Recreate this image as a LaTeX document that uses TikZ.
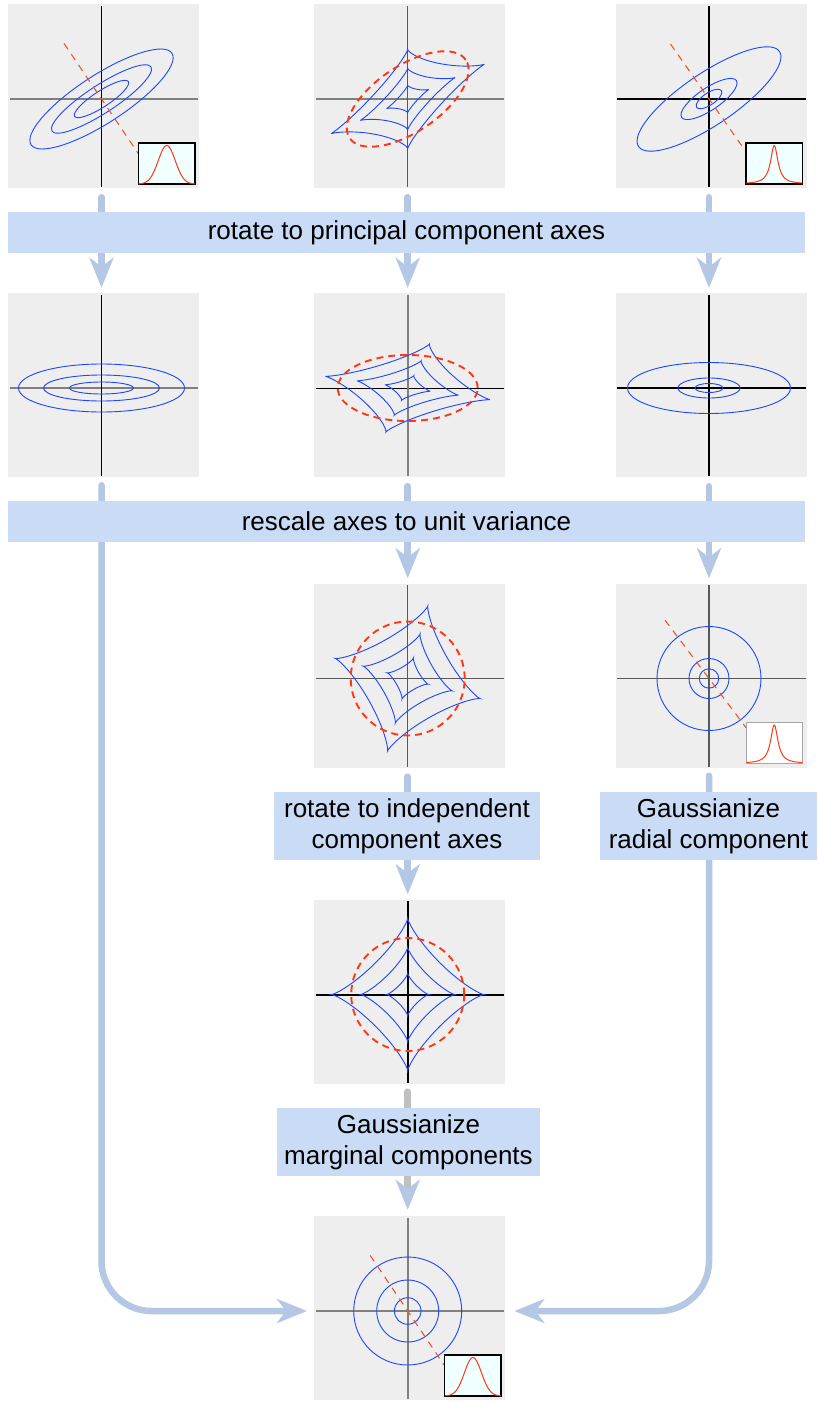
\documentclass[tikz,border=0pt]{standalone}
\usepackage{fontspec}
\setmainfont{Liberation Sans}
\usepackage{tikz}
\usetikzlibrary{arrows.meta}

\definecolor{panelgray}{RGB}{238,238,238}
\definecolor{bandblue}{RGB}{201,219,245}
\definecolor{flowblue}{RGB}{180,199,228}
\definecolor{stemgray}{RGB}{192,192,192}
\definecolor{contourblue}{RGB}{30,70,250}
\definecolor{dashred}{RGB}{255,55,20}
\definecolor{minorred}{RGB}{232,85,50}
\definecolor{insetcyan}{RGB}{240,255,255}

\begin{document}
\begin{tikzpicture}[x=1pt,y=1pt,
        declare function={cx(\t)=cos(\t)*abs(cos(\t))*sqrt(abs(cos(\t)));
                          cy(\t)=sin(\t)*abs(sin(\t))*sqrt(abs(sin(\t)));},
        panel/.style={fill=panelgray,minimum width=191pt,minimum height=184pt,inner sep=0pt,xshift=2pt,yshift=3pt},
        band/.style={fill=bandblue,minimum width=797pt,minimum height=41pt,inner sep=0pt,font=\fontsize{26}{31}\selectfont},
        stepbox/.style={fill=bandblue,minimum height=68pt,inner sep=0pt,align=center,font=\fontsize{26}{31}\selectfont},
        flow/.style={draw=flowblue,line width=6.5pt,line cap=round,-{Stealth[length=30pt,width=24pt,inset=9pt]}},
        contour/.style={draw=contourblue,line width=0.9pt},
        ring/.style={draw=dashred,line width=1.9pt,dash pattern=on 7pt off 5pt},
        minor/.style={draw=minorred,line width=1.1pt,dash pattern=on 7pt off 6pt},
        axthin/.style={draw=black,line width=0.9pt,shorten <=2pt,shorten >=1pt},
        axdim/.style={draw=black!65,line width=1.1pt,shorten <=2pt,shorten >=1pt},
        axgray/.style={draw=black!50,line width=1.8pt,shorten <=2pt,shorten >=1pt},
        axbold/.style={draw=black,line width=2pt,shorten <=2pt,shorten >=1pt},
        curvered/.style={draw=dashred,line width=1pt},
        insetbox/.style={draw=black,line width=1.5pt,fill=insetcyan},
        insetpale/.style={draw=black!35,line width=1pt,fill=white},
        pics/gauss/.style={code={
            \draw[insetbox] (37,-85) rectangle (93.5,-44);
            \draw[curvered] plot[domain=-3.3:3.3,samples=67] ({65.25+8.5*\x},{-85+38.5*exp(-\x*\x/2)});}},
        pics/peak/.style={code={
            \draw[#1] (37,-85) rectangle (93.5,-44);
            \draw[curvered] plot[domain=-28:28,samples=113] ({65.25+\x},{-85+38.5/(1+\x*\x/20)});}}]

    \useasboundingbox (0,0) rectangle (817,-1402);

    % axis crossings
    \coordinate (o11) at (101.5,-99);
    \coordinate (o12) at (407.7,-99);
    \coordinate (o13) at (709,-99);
    \coordinate (o21) at (101.5,-388);
    \coordinate (o22) at (407.7,-388);
    \coordinate (o23) at (709,-388);
    \coordinate (o32) at (407.7,-678.5);
    \coordinate (o33) at (709,-678.5);
    \coordinate (o42) at (407.7,-994.5);
    \coordinate (o52) at (407.7,-1311);

    \foreach \p in {11,12,13,21,22,23,32,33,42,52}
        \node[panel] (p\p) at (o\p) {};

    % row 1
    \draw[axgray] (p11.west |- o11) -- (p11.east |- o11);
    \draw[axthin] (o11 |- p11.north) -- (o11 |- p11.south);
    \begin{scope}[shift={(o11)},rotate=33]
        \foreach \a/\b in {84/24,59/14,32/8}
            \draw[contour] (0,0) ellipse [x radius=\a,y radius=\b];
    \end{scope}
    \draw[minor,shift={(o11)}] (124:67) -- (-56:70);
    \pic at (o11) {gauss};

    \draw[axgray] (p12.west |- o12) -- (p12.east |- o12);
    \draw[axdim] (o12 |- p12.north) -- (o12 |- p12.south);
    \begin{scope}[shift={(o12)},cm={1.009,0.457,0,0.651,(0,0)}]
        \foreach \r in {76,47,21}
            \draw[contour] plot[domain=0.5:360.5,samples=181] ({\r*cx(\x)},{\r*cy(\x)}) -- cycle;
    \end{scope}
    \draw[ring,shift={(o12)},rotate=34] (0,0) ellipse [x radius=70,y radius=33];

    \draw[axbold] (p13.west |- o13) -- (p13.east |- o13);
    \draw[axbold] (o13 |- p13.north) -- (o13 |- p13.south);
    \begin{scope}[shift={(o13)},rotate=34]
        \foreach \a/\b in {85/26,33/11,15/6}
            \draw[contour] (0,0) ellipse [x radius=\a,y radius=\b];
    \end{scope}
    \draw[minor,shift={(o13)}] (125:67) -- (-55:70);
    \pic at (o13) {peak=insetbox};

    % row 2
    \draw[axgray] (p21.west |- o21) -- (p21.east |- o21);
    \draw[axthin] (o21 |- p21.north) -- (o21 |- p21.south);
    \foreach \a/\b in {83/24,58/13,32/6}
        \draw[contour] (o21) ellipse [x radius=\a,y radius=\b];

    \draw[axthin] (p22.west |- o22) -- (p22.east |- o22);
    \draw[axgray] (o22 |- p22.north) -- (o22 |- p22.south);
    \begin{scope}[shift={(o22)},cm={1.082,-0.154,0.286,0.578,(0,0)}]
        \foreach \r in {76,47,21}
            \draw[contour] plot[domain=0.5:360.5,samples=181] ({\r*cx(\x)},{\r*cy(\x)}) -- cycle;
    \end{scope}
    \draw[ring] (o22) ellipse [x radius=70,y radius=33];

    \draw[axbold] (p23.west |- o23) -- (p23.east |- o23);
    \draw[axbold] (o23 |- p23.north) -- (o23 |- p23.south);
    \foreach \a/\b in {81.5/25.5,31/10,14/4.5}
        \draw[contour] (o23) ellipse [x radius=\a,y radius=\b];

    % row 3
    \draw[axdim] (p32.west |- o32) -- (p32.east |- o32);
    \draw[axdim] (o32 |- p32.north) -- (o32 |- p32.south);
    \begin{scope}[shift={(o32)},rotate=-15.5]
        \foreach \r in {75,46,21}
            \draw[contour] plot[domain=0.5:360.5,samples=181] ({\r*cx(\x)},{\r*cy(\x)}) -- cycle;
    \end{scope}
    \draw[ring] (o32) circle [radius=57];

    \draw[axdim] (p33.west |- o33) -- (p33.east |- o33);
    \draw[axdim] (o33 |- p33.north) -- (o33 |- p33.south);
    \foreach \r in {52,20,9.7}
        \draw[contour] (o33) circle [radius=\r];
    \draw[minor,shift={(o33)}] (127:73) -- (-53:62);
    \pic at (o33) {peak=insetpale};

    % row 4
    \draw[axbold] (p42.west |- o42) -- (p42.east |- o42);
    \draw[axbold] (o42 |- p42.north) -- (o42 |- p42.south);
    \begin{scope}[shift={(o42)}]
        \foreach \r in {76,47,21}
            \draw[contour] plot[domain=0.5:360.5,samples=181] ({\r*cx(\x)},{\r*cy(\x)}) -- cycle;
    \end{scope}
    \draw[ring] (o42) circle [radius=56.5];

    % row 5
    \draw[axgray] (p52.west |- o52) -- (p52.east |- o52);
    \draw[axgray] (o52 |- p52.north) -- (o52 |- p52.south);
    \foreach \r in {54,31,13.3}
        \draw[contour] (o52) circle [radius=\r];
    \draw[minor,shift={(o52)}] (124:67) -- (-56:70);
    \pic at (o52) {gauss};

    % arrows
    \foreach \a/\b in {11/21,12/22,13/23,22/32,23/33,32/42}
        \draw[flow] ([yshift=-9pt]o\a |- p\a.south) -- ([yshift=5pt]o\b |- p\b.north);
    \draw[flow,rounded corners=50pt] ([yshift=-8pt]o21 |- p21.south) |- ([xshift=-7pt]p52.west |- o52);
    \draw[flow,rounded corners=50pt] ([yshift=-8pt]o33 |- p33.south) |- ([xshift=9pt]p52.east |- o52);
    \draw[flow,draw=stemgray,-{Stealth[length=30pt,width=24pt,inset=9pt,color=flowblue,fill=flowblue]}]
        ([yshift=-8pt]o42 |- p42.south) -- ([yshift=6pt]o52 |- p52.north);

    % steps
    \node[band] (pcaband) at (406.5,-232.5) {rotate to principal component axes};
    \node[band] (whiteband) at (406.5,-521.5) {rescale axes to unit variance};
    \node[stepbox,minimum width=266pt] (icabox) at (407,-826) {rotate to independent\\component axes};
    \node[stepbox,minimum width=217pt] (radbox) at (708.5,-826) {Gaussianize\\radial component};
    \node[stepbox,minimum width=263pt] (margbox) at (408.5,-1142) {Gaussianize\\marginal components};
\end{tikzpicture}
\end{document}
